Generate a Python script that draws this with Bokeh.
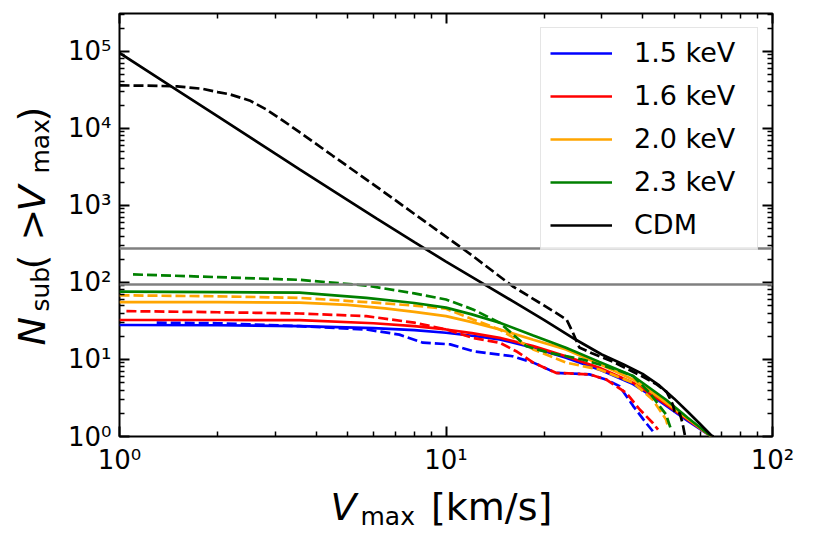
import math
from bokeh.plotting import figure
from bokeh.models import (Range1d, LogAxis, FixedTicker, CustomJSTickFormatter,
                          Span, Legend, LegendItem)
from bokeh.core.properties import value
from bokeh.embed import file_html
from bokeh.resources import INLINE

# ---------------- data ----------------
hlines = [275, 94]

cdm_x = [1, 1.5, 2, 3, 3.56, 5, 6.12, 8, 10, 13.3, 16, 20, 25, 30, 35, 40, 45, 50, 55, 60, 65, 66]
cdm_y = [95000, 31400, 14300, 4690, 2940, 1170, 676, 334, 186, 91, 57, 32.4, 18, 11.6, 8.6, 6.5, 4.6,
         3.1, 2.1, 1.45, 1.03, 1.0]

cdmd_x = [1, 1.2, 1.5, 1.8, 2.0, 2.17, 2.5, 2.81, 3.15, 3.56, 4.5, 6, 8.7, 12, 16, 20, 23.4, 24.5,
          25.6, 28, 32.4, 36, 40, 44, 47.4, 49.5, 50.2, 52, 53, 54]
cdmd_y = [36000, 35800, 35000, 32500, 29500, 27700, 23000, 17650, 12800, 8900, 4400, 1860, 600, 225,
          89, 50, 33, 22, 14.3, 12, 9.4, 7.5, 6.0, 4.8, 3.8, 2.6, 2.05, 2.0, 1.5, 1.0]

b15_x = [1, 2, 3.56, 6, 8, 10, 12, 14.6, 18.5, 23.3, 30, 37.4, 45, 55, 65]
b15_y = [28, 27.8, 27, 25.5, 24, 22.2, 20.3, 18.2, 14.2, 10.5, 7.2, 4.8, 2.9, 1.6, 1.0]
b15d_x = [1.3, 2, 3.56, 5.7, 7.2, 8.5, 10.3, 12.1, 16, 18.5, 21.7, 27.5, 30.9, 34, 37.4, 41, 43]
b15d_y = [30, 29.5, 27, 24.5, 21, 16.5, 15.7, 12.8, 11, 9.1, 6.7, 6.4, 5.5, 4.5, 2.5, 1.5, 1.17]

r16_x = [1, 2, 3.56, 6, 8, 10, 12, 14.6, 18.5, 23.3, 29.5, 37.4, 45, 55, 65]
r16_y = [32.5, 32.5, 32.3, 29.5, 27, 24.5, 22, 19.1, 14.9, 11, 7.8, 5.0, 3.0, 1.65, 1.0]
r16d_x = [1.05, 2, 3.56, 5.7, 8, 10, 12.1, 14.6, 16.4, 18.5, 21.7, 27.5, 30.9, 35.6, 39.2, 43, 44.6]
r16d_y = [42.4, 41, 39.5, 36.5, 30, 24.5, 19, 16.5, 12.8, 9.1, 6.7, 6.4, 5.5, 3.7, 2.24, 1.5, 1.23]

o20_x = [1, 2, 3.56, 5, 6.5, 8, 10, 12, 14.6, 18.5, 23.3, 29.5, 37.4, 45, 55, 65]
o20_y = [55.5, 55.3, 54.5, 51, 46, 41.5, 36.5, 30.5, 24.5, 18, 13.5, 8.7, 5.5, 3.2, 1.7, 1.0]
o20d_x = [1, 2, 3.56, 5.7, 8, 10, 12.1, 14.6, 18.5, 23.3, 29.5, 37.4, 43, 47.2, 48]
o20d_y = [68, 66, 63, 55.5, 50, 45.5, 33, 24.5, 13.5, 9.1, 7.4, 5.0, 3.0, 1.66, 1.3]

g23_x = [1, 2, 3.56, 5.7, 8, 10, 12, 14.6, 18.5, 23.3, 29.5, 37.4, 47.2, 55, 65]
g23_y = [75.7, 75, 73.5, 63, 54, 47, 38.5, 30, 20.5, 14.2, 9.3, 6.1, 3.0, 1.75, 1.0]
g23d_x = [1.1, 2, 3.56, 5.7, 8, 10, 12.1, 14.6, 17.6, 20.7, 26.2, 33.2, 37.4, 42, 47.2, 49]
g23d_y = [127, 117, 108, 91, 72, 60, 44.6, 30, 14.9, 12.2, 10, 7.4, 6.1, 3.7, 1.93, 1.2]

legend_labels = ["1.5 keV", "1.6 keV", "2.0 keV", "2.3 keV", "CDM"]
x_major = [1, 10, 100]
x_minor = [2, 3, 4, 5, 6, 7, 8, 9, 20, 30, 40, 50, 60, 70, 80, 90]
y_major = [1, 10, 100, 1000, 10000, 100000]
y_minor = [m * 10 ** d for d in range(6) for m in range(2, 10) if m * 10 ** d < 3.1e5]

# ---------------- figure ----------------
p = figure(width=805, height=535, x_axis_type="log", y_axis_type="log",
           x_range=Range1d(1, 100), y_range=Range1d(1, 3.09e5),
           output_backend="svg", toolbar_location=None,
           min_border_left=119, min_border_right=33, min_border_top=13, min_border_bottom=99)
p.grid.visible = False
p.outline_line_color = "black"
p.outline_line_width = 2
p.background_fill_color = "white"
p.border_fill_color = "white"

fmt_code = r"""
const sup = {"0":"\u2070","1":"\u00b9","2":"\u00b2","3":"\u00b3","4":"\u2074","5":"\u2075",
             "6":"\u2076","7":"\u2077","8":"\u2078","9":"\u2079","-":"\u207b"};
const e = Math.round(Math.log10(tick));
let s = "";
for (const c of String(e)) s += sup[c];
return "10" + s;
"""

def style_axis(ax, major, minor, labels):
    ax.ticker = FixedTicker(ticks=major, minor_ticks=minor)
    ax.major_tick_in = 10
    ax.major_tick_out = 0
    ax.minor_tick_in = 5
    ax.minor_tick_out = 0
    ax.major_tick_line_width = 2
    ax.minor_tick_line_width = 1.5
    ax.major_tick_line_color = "black"
    ax.minor_tick_line_color = "black"
    ax.axis_line_color = None
    if labels:
        ax.formatter = CustomJSTickFormatter(code=fmt_code)
        ax.major_label_text_font = "DejaVu Sans"
        ax.major_label_text_font_size = "26px"
        ax.major_label_text_color = "black"
        ax.major_label_standoff = 8
    else:
        ax.formatter = CustomJSTickFormatter(code="return '';")
        ax.major_label_text_font_size = "1px"
        ax.major_label_standoff = 0

style_axis(p.xaxis[0], x_major, x_minor, True)
style_axis(p.yaxis[0], y_major, y_minor, True)
top = LogAxis()
right = LogAxis()
style_axis(top, x_major, x_minor, False)
style_axis(right, y_major, y_minor, False)
p.add_layout(top, "above")
p.add_layout(right, "right")

for h in hlines:
    p.add_layout(Span(location=h, dimension="width", line_color="#808080", line_width=2.5))

LW = 2.7
DASH = "10 4"
series = [
    ("blue", b15_x, b15_y, b15d_x, b15d_y),
    ("red", r16_x, r16_y, r16d_x, r16d_y),
    ("orange", o20_x, o20_y, o20d_x, o20d_y),
    ("green", g23_x, g23_y, g23d_x, g23d_y),
    ("black", cdm_x, cdm_y, cdmd_x, cdmd_y),
]
items = []
for (col, sx, sy, dx, dy), lab in zip(series, legend_labels):
    r = p.line(sx, sy, line_color=col, line_width=LW)
    p.line(dx, dy, line_color=col, line_width=LW, line_dash=DASH)
    items.append(LegendItem(label=lab, renderers=[r]))

legend = Legend(items=items, location="top_right", margin=14, padding=9, spacing=12,
                glyph_width=62, glyph_height=28, label_height=28, label_width=114,
                label_standoff=22, label_text_font="DejaVu Sans", label_text_font_size="27px",
                label_text_color="black",
                border_line_color="#cccccc", border_line_width=1.5, background_fill_alpha=0.8)
p.add_layout(legend)

# ---------------- axis labels: text anchored at the frame's lower-left corner ----------------
X0, Y0 = p.x_range.start, p.y_range.start

def lab(dx, dy, text, size, italic=False, angle=0.0):
    p.text(x=[X0], y=[Y0], text=[text], x_offset=dx, y_offset=dy, angle=angle,
           text_font=value("DejaVu Sans"), text_font_size=value(size),
           text_font_style="italic" if italic else "normal",
           text_color="black", text_align="left", text_baseline="alphabetic",
           level="overlay")

# x label: V_max [km/s]
lab(211, 70.7, "V", "38px", italic=True)
lab(241, 80, "max", "25px")
lab(311.5, 70.7, "[km/s]", "38px")

# y label: N_sub(> V_max)
A = math.pi / 2
lab(-88, -91, "N", "38px", italic=True, angle=A)
lab(-79, -125, "sub", "25px", angle=A)
lab(-88, -167, "(", "38px", angle=A)
lab(-88, -196, ">", "38px", angle=A)
lab(-88, -225, "V", "38px", italic=True, angle=A)
lab(-79, -263, "max", "25px", angle=A)
lab(-88, -315, ")", "38px", angle=A)

open("out.html", "w").write(file_html(p, INLINE))
